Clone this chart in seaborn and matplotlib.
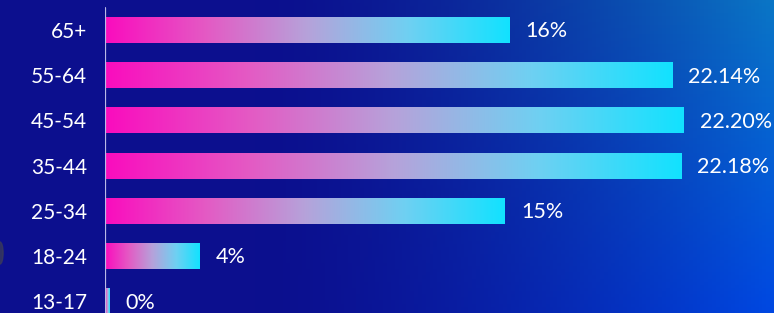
import numpy as np
import pandas as pd
import matplotlib.pyplot as plt
import seaborn as sns
from matplotlib.colors import LinearSegmentedColormap, to_rgb
from matplotlib.patches import Ellipse

# Data
ages = ["65+", "55-64", "45-54", "35-44", "25-34", "18-24", "13-17"]
share = [15.66, 21.98, 22.44, 22.33, 15.5, 3.68, 0.16]
labels = ["16%", "22.14%", "22.20%", "22.18%", "15%", "4%", "0%"]

df = pd.DataFrame({"Age": ages, "Share": share})

sns.set_style("white")
plt.rcParams["font.family"] = ["Lato", "DejaVu Sans"]

W, H = 774, 313
fig = plt.figure(figsize=(W / 100, H / 100), dpi=100)

# Background gradient
bg = fig.add_axes([0, 0, 1, 1])
bg.set_axis_off()
xs = np.linspace(0, 1, 200)
ys = np.linspace(0, 1, 100)
X, Y = np.meshgrid(xs, ys)
navy = np.array(to_rgb("#0c0f8e"))
top_r = np.array(to_rgb("#0a76c6"))
bot_r = np.array(to_rgb("#0048e2"))
w = np.clip((X - 0.33) / 0.67, 0, 1) ** 1.5
right = top_r[None, None, :] * (1 - Y[..., None]) + bot_r[None, None, :] * Y[..., None]
img = navy[None, None, :] * (1 - w[..., None]) + right * w[..., None]
bg.imshow(img, extent=[0, 1, 1, 0], aspect="auto")
bg.add_patch(Ellipse((0.0, 253 / H), 0.008, 22 / H, color="#3a3a5a", alpha=0.8))
bg.set_xlim(0, 1)
bg.set_ylim(1, 0)

# Bars
left_px, top_pc, pitch = 105, 30, 45.2
ax = fig.add_axes([left_px / W, 0, (W - left_px) / W, 1])
ax.patch.set_alpha(0)
sns.barplot(data=df, y="Age", x="Share", orient="h", width=0.575, ax=ax)
for s in ax.spines.values():
    s.set_visible(False)
ax.set_xticks([])
ax.set_xlabel("")
ax.set_ylabel("")
ax.tick_params(axis="y", length=0, pad=13, labelsize=15, labelcolor="white")
ax.axvline(0, ymin=0, ymax=(H - 8) / H, color="#b9b9e6", lw=1.6, zorder=5)

cmap = LinearSegmentedColormap.from_list(
    "bar", ["#fa0cbe", "#e45ac4", "#b6a2da", "#6fd0f2", "#12e2ff"])
grad = np.linspace(0, 1, 256)[None, :]
for p, lab in zip(ax.patches, labels):
    x0, y0 = p.get_x(), p.get_y()
    w_, h_ = p.get_width(), p.get_height()
    p.set_facecolor("none")
    p.set_edgecolor("none")
    ax.imshow(grad, cmap=cmap, aspect="auto", extent=[x0, x0 + w_, y0 + h_, y0],
              zorder=2, interpolation="bilinear")
    ax.text(x0 + w_ + 0.62, y0 + h_ / 2 + 0.03, lab, color="white",
            fontsize=15.5, va="center", ha="left")

ax.set_xlim(0, (W - left_px) / 25.8)
ax.set_ylim((H - top_pc) / pitch, -top_pc / pitch)

fig.savefig("out.png", dpi=100)
